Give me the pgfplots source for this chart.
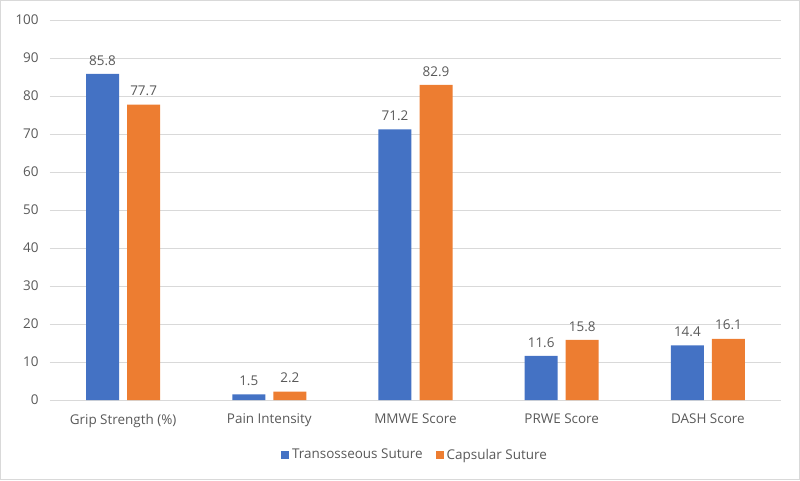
\documentclass[border=0pt]{standalone}
\usepackage{pgfplots}
\pgfplotsset{compat=1.18}
\usepackage{fontspec}
\setmainfont{Open Sans}
\definecolor{txt}{HTML}{595959}
\definecolor{gridc}{HTML}{D9D9D9}
\definecolor{blueb}{HTML}{4472C4}
\definecolor{orangeb}{HTML}{ED7D31}
\begin{document}
\begin{tikzpicture}
\path[use as bounding box] (0,0) rectangle (600pt,360pt);
\draw[gridc, line width=0.75pt] (0.4pt,0.4pt) rectangle (599.6pt,359.6pt);
\begin{axis}[
  at={(37.5pt,60pt)}, anchor=south west,
  scale only axis, width=548.25pt, height=285pt,
  xmin=-0.5, xmax=4.5, ymin=0, ymax=100,
  ytick={0,10,...,100},
  xtick={0,1,2,3,4},
  xticklabels={Grip Strength (\%),Pain Intensity,MMWE Score,PRWE Score,DASH Score},
  ymajorgrids, grid style={gridc, line width=0.75pt},
  axis line style={draw=none},
  major tick length=0pt,
  tick label style={font=\fontsize{10.1pt}{12pt}\selectfont, text=txt},
  /pgf/number format/assume math mode=true,
  yticklabel style={xshift=-5pt},
  xticklabel style={yshift=-7pt},
  ybar, bar width=24.75pt,
  nodes near coords,
  every node near coord/.append style={font=\fontsize{10.1pt}{12pt}\selectfont, text=txt, yshift=3pt},
  nodes near coords style={/pgf/number format/.cd, fixed, fixed zerofill, precision=1, assume math mode=true},
  legend style={at={(0.5,-0.145)}, anchor=center, draw=none, legend columns=2,
    font=\fontsize{10.1pt}{12pt}\selectfont, text=txt,
    /tikz/every even column/.append style={column sep=8pt}},
  legend image code/.code={\fill[#1] (0pt,-3pt) rectangle (6pt,3pt);},
]
\addplot[fill=blueb, draw=none, bar shift=-15.4pt] coordinates {(0,85.8) (1,1.5) (2,71.2) (3,11.6) (4,14.4)};
\addplot[fill=orangeb, draw=none, bar shift=15.4pt] coordinates {(0,77.7) (1,2.2) (2,82.9) (3,15.8) (4,16.1)};
\legend{Transosseous Suture, Capsular Suture}
\end{axis}
\end{tikzpicture}
\end{document}
